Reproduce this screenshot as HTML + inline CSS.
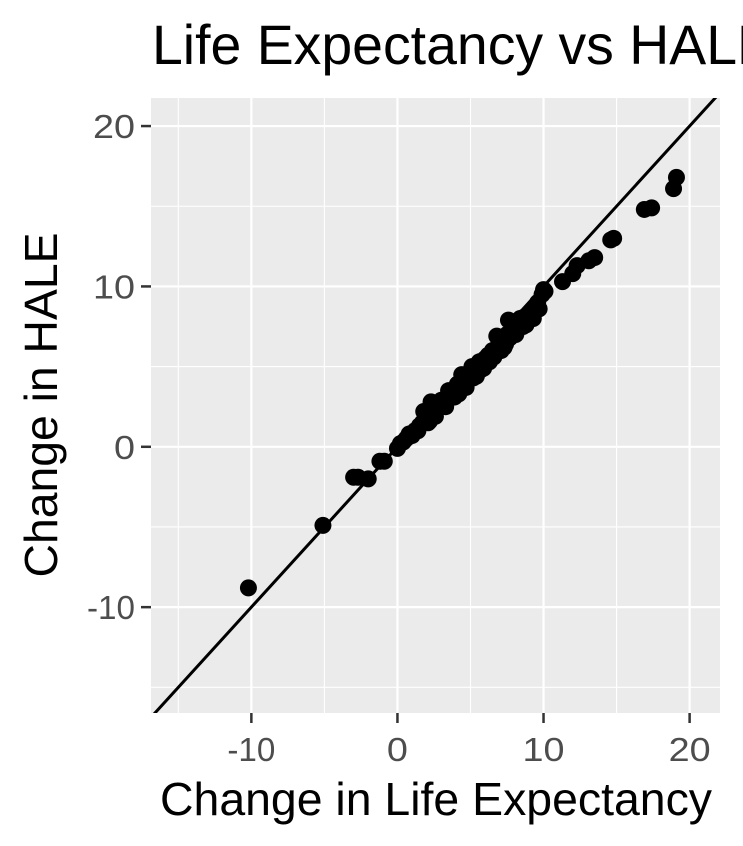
<!DOCTYPE html>
<html><head><meta charset="utf-8"><style>
html,body{margin:0;padding:0;background:#fff;}
svg{display:block;font-family:"Liberation Sans",Arial,sans-serif;}
</style></head><body>
<svg id="chart" width="743" height="846" viewBox="0 0 743 846">
<text x="152" y="64" font-size="56" textLength="622" lengthAdjust="spacingAndGlyphs" fill="#000">Life Expectancy vs HALE</text>
<defs><clipPath id="pc"><rect x="151" y="98" width="569" height="615"/></clipPath></defs>
<rect x="151" y="98" width="569" height="615" fill="#EBEBEB"/>
<g id="grid"></g>
<g id="ticks"></g>
<g clip-path="url(#pc)" id="marks"></g>
<text x="436" y="815" font-size="46" text-anchor="middle" textLength="552" lengthAdjust="spacingAndGlyphs">Change in Life Expectancy</text>
<text transform="translate(57,405) rotate(-90)" font-size="46" text-anchor="middle" textLength="345" lengthAdjust="spacingAndGlyphs">Change in HALE</text>
</svg>
<script>
const xTicks=[-10,0,10,20];
const yTicks=[-10,0,10,20];
const xMinor=[-15,-5,5,15];
const yMinor=[-15,-5,5,15];
const leChange=[-10.2,-5.1,-3.0,-2.7,-2.0,-1.2,-0.9,19.1,18.9,17.4,16.9,14.8,14.6,13.5,13.1,12.3,12.0,11.3,10.0,
0.0,0.2,0.4,0.6,0.8,1.0,1.2,1.5,1.8,2.0,1.7,2.2,2.5,2.7,2.9,3.0,3.2,3.4,3.6,3.8,4.0,4.1,4.3,4.5,4.6,4.8,5.0,5.1,5.3,5.5,5.6,5.8,6.0,6.2,6.3,6.5,6.7,6.9,7.0,7.2,7.4,7.5,7.7,7.9,8.0,8.2,8.4,8.5,8.7,8.9,9.0,9.2,9.4,9.6,9.9,10.1,3.5,5.2,6.8,7.6,2.3,4.4,
2.6,3.3,3.9,4.7,5.4,5.9,6.6,7.3,8.1,8.8,9.3,1.4,2.1,4.2,5.7,7.1,8.6,9.7];
const haleChange=[-8.8,-4.9,-1.9,-1.9,-2.0,-0.9,-0.9,16.8,16.1,14.9,14.8,13.0,12.9,11.8,11.6,11.3,10.8,10.3,9.8,
-0.1,0.2,0.3,0.5,0.8,0.7,1.0,1.3,2.2,2.1,1.5,1.6,2.0,2.3,2.6,2.9,2.7,3.0,3.2,3.4,3.6,3.9,4.0,4.1,3.8,4.4,4.6,5.0,4.7,4.9,5.3,5.1,5.5,5.7,5.3,6.0,5.9,6.3,6.1,6.6,6.4,7.0,6.8,7.2,7.6,7.4,8.0,7.7,8.1,7.8,8.3,8.5,8.7,9.0,9.5,9.7,3.5,4.3,6.9,7.9,2.8,4.5,
1.9,2.5,3.1,3.7,4.4,4.9,5.6,6.2,7.0,7.6,8.0,1.0,1.5,3.3,4.8,6.0,7.5,8.6];
const X0=151,X1=720,Y0=713,Y1=98,xMin=-16.87,xMax=22.08,yMin=-16.6,yMax=21.75;
const sx=v=>X0+(v-xMin)/(xMax-xMin)*(X1-X0);
const sy=v=>Y0-(v-yMin)/(yMax-yMin)*(Y0-Y1);
const NS="http://www.w3.org/2000/svg";
function mk(tag,attrs,parent){const e=document.createElementNS(NS,tag);for(const k in attrs)e.setAttribute(k,attrs[k]);document.getElementById(parent).appendChild(e);return e;}
xMinor.forEach(v=>{const e=mk('line',{x1:sx(v),x2:sx(v),y1:Y1,y2:Y0,stroke:'#fff','stroke-width':1.1},'grid');

});
yMinor.forEach(v=>{const e=mk('line',{x1:X0,x2:X1,y1:sy(v),y2:sy(v),stroke:'#fff','stroke-width':1.1},'grid');

});
const tlen=v=>String(v).length===3?48:String(v).length===2?42:21;
xTicks.forEach(v=>{const g=mk('line',{x1:sx(v),x2:sx(v),y1:Y1,y2:Y0,stroke:'#fff','stroke-width':2.2},'grid');


const t=mk('line',{x1:sx(v),x2:sx(v),y1:Y0,y2:Y0+10,stroke:'#333','stroke-width':2.5},'ticks');


const l=mk('text',{x:sx(v),y:761,'font-size':33,'text-anchor':'middle',fill:'#4D4D4D',textLength:tlen(v),lengthAdjust:'spacingAndGlyphs'},'ticks');l.textContent=v;

});
yTicks.forEach(v=>{const g=mk('line',{x1:X0,x2:X1,y1:sy(v),y2:sy(v),stroke:'#fff','stroke-width':2.2},'grid');


const t=mk('line',{x1:X0-10,x2:X0,y1:sy(v),y2:sy(v),stroke:'#333','stroke-width':2.5},'ticks');


const l=mk('text',{x:X0-16-tlen(v)/2,y:sy(v)+12,'font-size':33,'text-anchor':'middle',fill:'#4D4D4D',textLength:tlen(v),lengthAdjust:'spacingAndGlyphs'},'ticks');l.textContent=v;

});
leChange.forEach((v,i)=>{const c=mk('circle',{cx:sx(v),cy:sy(haleChange[i]),r:8.5,fill:'#000'},'marks');

});
const ref=mk('line',{x1:sx(-20),y1:sy(-20),x2:sx(25),y2:sy(25),stroke:'#000','stroke-width':3},'marks');


</script>
</body></html>
